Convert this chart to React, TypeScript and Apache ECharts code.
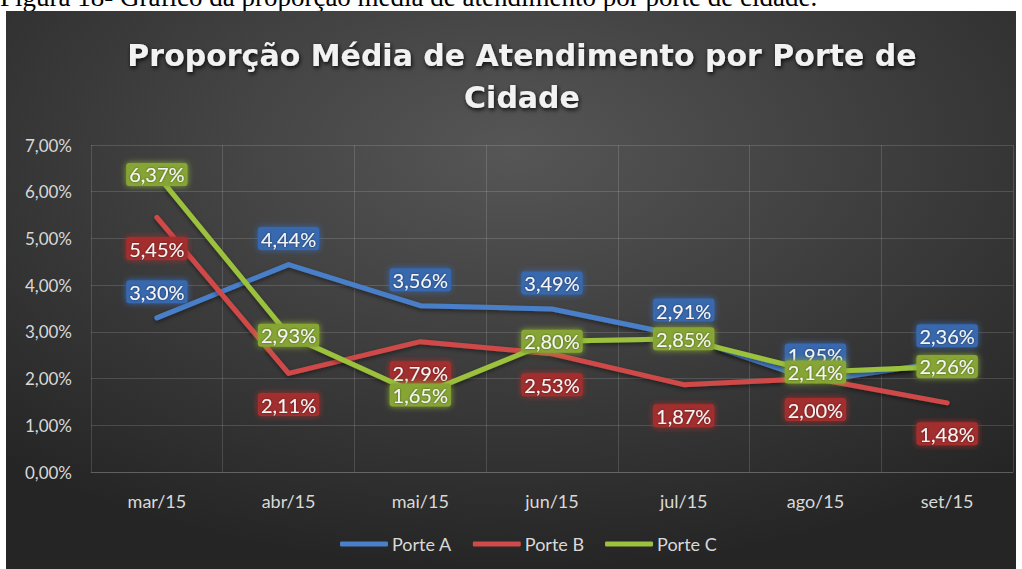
import React, { useEffect, useRef } from "react";
import * as echarts from "echarts";

const categories = ["mar/15", "abr/15", "mai/15", "jun/15", "jul/15", "ago/15", "set/15"];
const porteA = [3.30, 4.44, 3.56, 3.49, 2.91, 1.95, 2.36];
const porteB = [5.45, 2.11, 2.79, 2.53, 1.87, 2.00, 1.48];
const porteC = [6.37, 2.93, 1.65, 2.80, 2.85, 2.14, 2.26];
const seriesNames = ["Porte A", "Porte B", "Porte C"];
const titleText = "Proporção Média de Atendimento por Porte de\nCidade";
const captionText = "Figura 18- Gráfico da proporção média de atendimento por porte de cidade.";

const fmt = (v: number) => v.toFixed(2).replace(".", ",") + "%";

export default function App() {
  const ref = useRef<HTMLDivElement>(null);
  useEffect(() => {
    if (!ref.current) return;
    const chart = echarts.init(ref.current, null, { renderer: "svg" });
    const font = "Lato";
    const mkLabel = (bg: string, position: string, distance: number) => ({
      show: true,
      position,
      distance,
      formatter: (p: any) => fmt(p.value),
      color: "#f6f6f6",
      fontFamily: font,
      fontSize: 20,
      backgroundColor: bg,
      padding: [2, 3, 1, 3],
      borderRadius: 3,
      shadowColor: bg,
      shadowBlur: 6,
      textShadowColor: "rgba(0,0,0,0.5)",
      textShadowBlur: 2,
    });
    const mkSeries = (name: string, data: number[], color: string, label: any, z: number) => ({
      name,
      type: "line",
      data,
      symbol: "circle",
      symbolSize: 1,
      showSymbol: true,
      z,
      lineStyle: {
        color,
        width: 5,
        cap: "round",
        join: "round",
        shadowColor: "rgba(0,0,0,0.45)",
        shadowBlur: 4,
        shadowOffsetY: 2,
      },
      itemStyle: { color },
      label,
      labelLayout: { hideOverlap: false },
    });
    chart.setOption({
      animation: false,
      backgroundColor: "#ffffff",
      graphic: [
        {
          type: "text",
          x: 0,
          y: 10,
          z: -200,
          style: {
            text: captionText,
            font: '27px "Liberation Serif"',
            fill: "#000",
            verticalAlign: "bottom",
          },
        },
        {
          type: "rect",
          z: -100,
          shape: { x: 6, y: 11, width: 1010, height: 560 },
          style: {
            fill: new echarts.graphic.RadialGradient(0.5, 0.25, 0.75, [
              { offset: 0, color: "#565656" },
              { offset: 1, color: "#252525" },
            ]),
          },
        },
        {
          type: "text",
          x: 522,
          y: 34,
          z: 10,
          style: {
            text: titleText,
            font: 'bold 30px "DejaVu Sans"',
            fill: "#f2f2f2",
            align: "center",
            verticalAlign: "top",
            lineHeight: 42,
            textShadowColor: "rgba(0,0,0,0.85)",
            textShadowBlur: 4,
            textShadowOffsetX: 1,
            textShadowOffsetY: 2,
          },
        },
      ],
      grid: { left: 91, right: 9, top: 145, bottom: 97 },
      legend: {
        bottom: 11,
        left: 335,
        icon: "roundRect",
        itemWidth: 48,
        itemHeight: 5,
        itemGap: 21,
        data: seriesNames,
        textStyle: { color: "#d9d9d9", fontSize: 18, fontFamily: font, padding: [0, 0, 0, -1] },
      },
      xAxis: {
        type: "category",
        data: categories,
        boundaryGap: true,
        axisLine: { show: true, lineStyle: { color: "rgba(255,255,255,0.14)" } },
        axisTick: { show: false },
        splitLine: { show: true, lineStyle: { color: "rgba(255,255,255,0.14)" } },
        axisLabel: { color: "#d9d9d9", fontSize: 18, fontFamily: font, margin: 20 },
      },
      yAxis: {
        type: "value",
        min: 0,
        max: 7,
        interval: 1,
        axisLine: { show: false },
        axisTick: { show: false },
        splitLine: { show: true, lineStyle: { color: "rgba(255,255,255,0.14)" } },
        axisLabel: {
          color: "#d9d9d9",
          fontSize: 17,
          fontFamily: font,
          margin: 19,
          formatter: (v: number) => fmt(v),
        },
      },
      series: [
        mkSeries(seriesNames[0], porteA, "#4a7fc9", mkLabel("#3767ad", "top", 14), 3),
        mkSeries(seriesNames[1], porteB, "#d04a4a", mkLabel("#a22e2e", "bottom", 19), 4),
        mkSeries(seriesNames[2], porteC, "#9cc23e", mkLabel("#86a536", "inside", 0), 5),
      ],
    });
    return () => chart.dispose();
  }, []);
  return (
    <div
      ref={ref}
      style={{ position: "absolute", left: 0, top: 0, width: 1022, height: 569 }}
    />
  );
}
